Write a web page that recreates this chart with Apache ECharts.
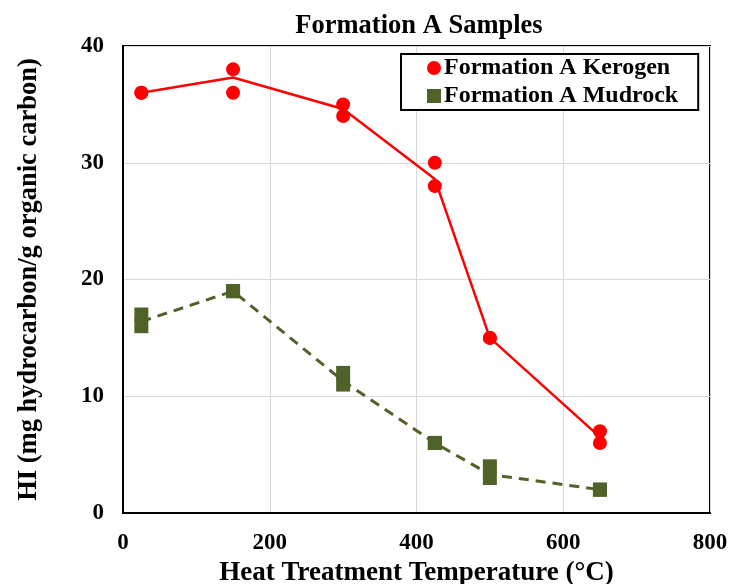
<!DOCTYPE html>
<html><head><meta charset="utf-8">
<script src="https://cdn.jsdelivr.net/npm/echarts@6/dist/echarts.min.js"></script>
<style>html,body{margin:0;padding:0;background:#fff}#c{width:732px;height:584px}</style>
</head><body><div id="c"></div>
<script>
const kerogenPoints = [[25,36],[25,36],[150,38],[150,36],[300,35],[300,34],[425,30],[425,28],[500,15],[500,15],[650,7],[650,6]];
const kerogenMean = [[25,36],[150,37.3],[300,34.6],[425,28.6],[500,15],[650,6.5]];
const mudrockPoints = [[25,17],[25,16],[150,19],[150,19],[300,12],[300,11],[425,6],[425,6],[500,4],[500,3],[650,2],[650,2]];
const mudrockMean = [[25,16.4],[150,19],[300,11.3],[425,6],[500,3.3],[650,2]];
const xTicks = [0,200,400,600,800];
const yTicks = [0,10,20,30,40];

const font = '"Liberation Serif","Times New Roman",serif';
const chart = echarts.init(document.getElementById('c'), null, {renderer:'canvas'});
chart.setOption({
  animation:false,
  title:{text:'Formation A Samples', left:414, top:8, textAlign:'center',
    textStyle:{fontFamily:font, fontWeight:'bold', fontSize:26.5, color:'#000'}},
  grid:{left:123, right:22, top:46, bottom:71, show:true, borderColor:'#000', borderWidth:2,
    containLabel:false, outerBoundsMode:'none'},
  legend:{data:['Formation A Kerogen','Formation A Mudrock'], orient:'vertical',
    left:401, top:54, itemGap:4, itemWidth:14, itemHeight:14,
    padding:[2,20,2,26], borderColor:'#000', borderWidth:2, backgroundColor:'#fff',
    textStyle:{fontFamily:font, fontWeight:'bold', fontSize:24, color:'#000', padding:[0,0,0,-2]}},
  xAxis:{type:'value', min:xTicks[0], max:xTicks[xTicks.length-1], interval:200,
    name:'Heat Treatment Temperature (°C)', nameLocation:'middle', nameGap:39,
    nameTextStyle:{fontFamily:font, fontWeight:'bold', fontSize:27, color:'#000'},
    axisLine:{lineStyle:{color:'#000', width:2}}, axisTick:{show:false},
    axisLabel:{fontFamily:font, fontWeight:'bold', fontSize:23, color:'#000', margin:19},
    splitLine:{lineStyle:{color:'#d9d9d9', width:1}}},
  yAxis:{type:'value', min:yTicks[0], max:yTicks[yTicks.length-1], interval:10,
    name:'HI (mg hydrocarbon/g organic carbon)', nameLocation:'middle', nameGap:80,
    nameTextStyle:{fontFamily:font, fontWeight:'bold', fontSize:26.5, color:'#000'},
    axisLine:{lineStyle:{color:'#000', width:2}}, axisTick:{show:false},
    axisLabel:{fontFamily:font, fontWeight:'bold', fontSize:23, color:'#000', margin:19},
    splitLine:{lineStyle:{color:'#d9d9d9', width:1}}},
  series:[
    {name:'kerogenLine', type:'line', data:kerogenMean, showSymbol:false, symbol:'none',
      lineStyle:{color:'#ff0000', width:2.5}, z:2},
    {name:'mudrockLine', type:'line', data:mudrockMean, showSymbol:false, symbol:'none',
      lineStyle:{color:'#4f6228', width:3, type:[10,7]}, z:2},
    {name:'Formation A Kerogen', type:'scatter', data:kerogenPoints, symbol:'circle', symbolSize:14,
      itemStyle:{color:'#ff0000', opacity:1}, z:3},
    {name:'Formation A Mudrock', type:'scatter', data:mudrockPoints, symbol:'rect', symbolSize:14,
      itemStyle:{color:'#4f6228', opacity:1}, z:3}
  ]
});
</script></body></html>
